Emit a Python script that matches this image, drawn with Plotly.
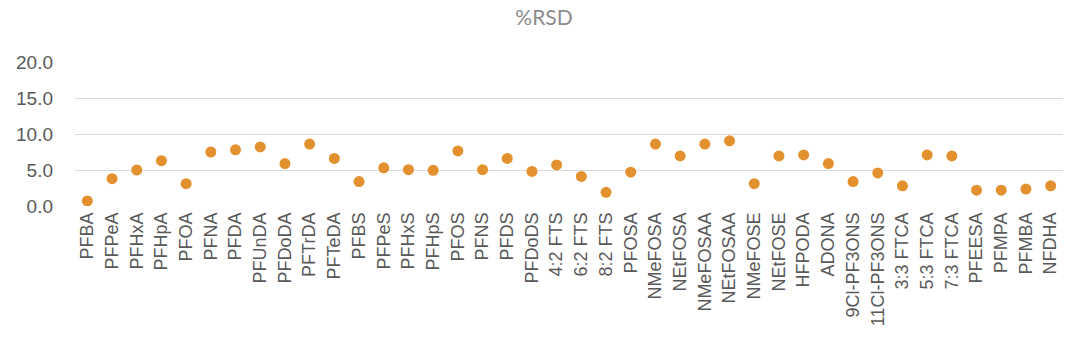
import plotly.graph_objects as go

compounds = ["PFBA", "PFPeA", "PFHxA", "PFHpA", "PFOA", "PFNA", "PFDA", "PFUnDA", "PFDoDA",
             "PFTrDA", "PFTeDA", "PFBS", "PFPeS", "PFHxS", "PFHpS", "PFOS", "PFNS", "PFDS",
             "PFDoDS", "4:2 FTS", "6:2 FTS", "8:2 FTS", "PFOSA", "NMeFOSA", "NEtFOSA",
             "NMeFOSAA", "NEtFOSAA", "NMeFOSE", "NEtFOSE", "HFPODA", "ADONA", "9Cl-PF3ONS",
             "11Cl-PF3ONS", "3:3 FTCA", "5:3 FTCA", "7:3 FTCA", "PFEESA", "PFMPA", "PFMBA", "NFDHA"]
rsd = [0.7, 3.8, 5.0, 6.3, 3.1, 7.5, 7.8, 8.2, 5.9,
       8.6, 6.6, 3.4, 5.3, 5.05, 4.95, 7.65, 5.05, 6.6,
       4.8, 5.7, 4.1, 1.9, 4.7, 8.6, 6.95,
       8.6, 9.05, 3.1, 6.95, 7.1, 5.9, 3.4,
       4.6, 2.8, 7.1, 6.95, 2.2, 2.2, 2.35, 2.8]
y_ticks = [0, 5, 10, 15, 20]

fig = go.Figure(go.Scatter(
    x=compounds, y=rsd, mode="markers",
    marker=dict(size=11, color="#E3912F", line=dict(width=0)),
))
fig.update_layout(
    width=1080, height=354,
    margin=dict(l=75, r=17, t=62, b=148),
    paper_bgcolor="white", plot_bgcolor="white",
    showlegend=False,
    title=dict(text="%RSD", x=544 / 1080, xanchor="center", y=0.95, yanchor="middle",
               font=dict(family="Lato, Liberation Sans, Arial", size=21, color="#8C8C8C")),
    font=dict(family="Liberation Sans, Arial", color="#595959"),
)
fig.update_xaxes(
    type="category", tickangle=-90, showgrid=False, showline=False, zeroline=False,
    tickfont=dict(size=18, color="#595959"), ticks="", ticklabelstandoff=2,
    range=[-0.5, len(compounds) - 0.5],
)
fig.update_yaxes(
    range=[0, 20], tickvals=y_ticks, ticktext=[f"{v:.1f}" for v in y_ticks],
    showgrid=True, gridcolor="#D9D9D9", gridwidth=1.3, zeroline=False, showline=False,
    tickfont=dict(size=19, color="#595959"), ticks="", ticklabelstandoff=21,
)
fig.write_html("out.html")
